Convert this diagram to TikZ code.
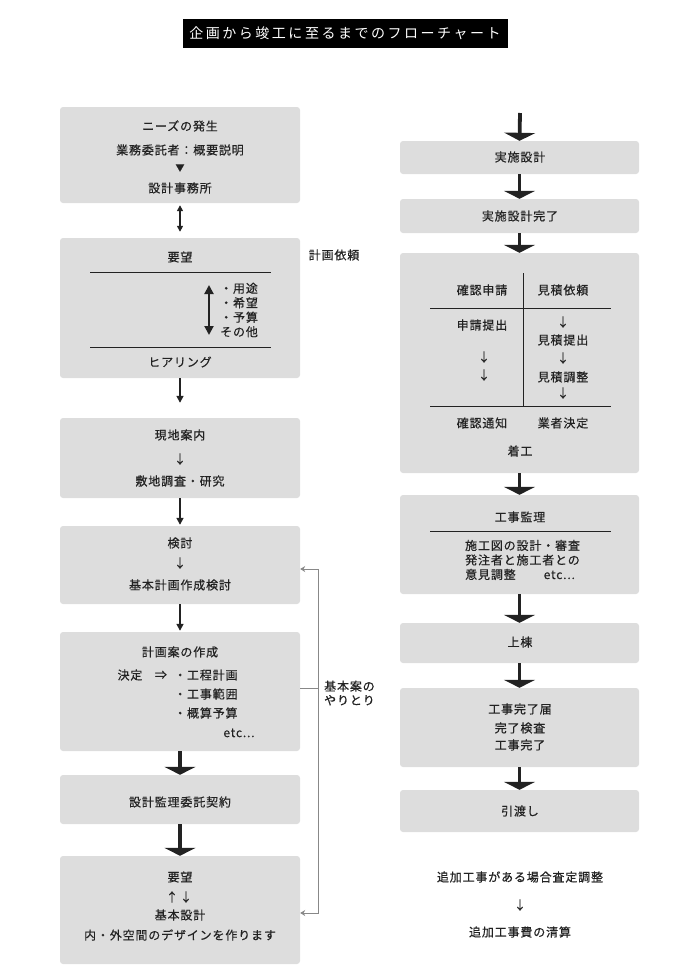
\documentclass[tikz,border=0pt]{standalone}
\usepackage{fontspec}
\usepackage{xcolor}
\usepackage{tikz}
\usetikzlibrary{arrows.meta,calc}
\newfontfamily\jp[LetterSpace=7,FakeBold=0.5]{Noto Sans CJK JP}
\newfontfamily\jptitle[LetterSpace=18]{Noto Sans CJK JP}
\definecolor{flowbox}{RGB}{221,221,221}
\definecolor{flowtext}{RGB}{34,34,34}
\definecolor{loopgray}{RGB}{136,136,136}

\begin{document}
\begin{tikzpicture}[
  x=1pt, y=-1pt,
  every node/.style={font=\jp\fontsize{12}{14.5}\selectfont, text=flowtext, inner sep=0pt},
  box/.style={fill=flowbox, rounded corners=3pt, minimum width=240pt},
  rbox/.style={box, minimum width=239pt},
  rule/.style={line width=0.9pt, color=flowtext},
  arrow/.style={-{Triangle[width=7pt,length=7pt]}, line width=1.6pt, color=flowtext},
  dblarrow/.style={{Triangle[width=6pt,length=6pt]}-{Triangle[width=6pt,length=6pt]}, line width=1.5pt, color=flowtext},
  bigarrow/.style={-{Triangle[width=31pt,length=8pt]}, line width=3.8pt, color=flowtext},
  loopline/.style={line width=0.9pt, color=loopgray},
  looparrow/.style={loopline, -{Stealth[length=5pt,width=6pt]}},
  small/.style={font=\jp\fontsize{9}{10}\selectfont}
]
  \useasboundingbox (0,0) rectangle (700,980);

  % title
  \node[fill=black, text=white, minimum width=325pt, minimum height=29pt,
        font=\jptitle\fontsize{14}{16}\selectfont] (title) at (345,33) {企画から竣工に至るまでのフローチャート};

  % left column
  \node[box, minimum height=96pt] (b1) at (180,155) {};
  \node[box, minimum height=140pt] (b2) at (180,308) {};
  \node[box, minimum height=80pt] (b3) at (180,458) {};
  \node[box, minimum height=78pt] (b4) at (180,565) {};
  \node[box, minimum height=119pt] (b5) at (180,691.5) {};
  \node[box, minimum height=49pt] (b6) at (180,799.5) {};
  \node[box, minimum height=108pt] (b7) at (180,910) {};

  \node (needs) at (180,126) {ニーズの発生};
  \node (client) at (180,150) {業務委託者：概要説明};
  \node[small] (tri) at (180,168) {▼};
  \node (office) at (180,188) {設計事務所};

  \node (wish) at (180,257) {要望};
  \draw[rule] (90,272) -- (271,272);
  \node[align=left, anchor=west] (items) at (220,310) {・用途\\・希望\\・予算\\その他};
  \coordinate (itemtop) at (209,285);
  \coordinate (itembot) at (209,335);
  \draw[{Triangle[width=9pt,length=9pt]}-{Triangle[width=9pt,length=9pt]}, line width=2pt, color=flowtext] (itemtop) -- (itembot);
  \draw[rule] (90,347) -- (271,347);
  \node (hearing) at (180,362) {ヒアリング};
  \node (request) at (334,255) {計画依頼};

  \node (guide) at (180,435) {現地案内};
  \node (g1) at (180,459) {↓};
  \node (survey) at (180,481) {敷地調査・研究};

  \node (study) at (180,543) {検討};
  \node (s1) at (180,563) {↓};
  \node (basic) at (180,585) {基本計画作成検討};

  \node (plan) at (180,652) {計画案の作成};
  \node (decide) at (130,675) {決定};
  \node (imply) at (161,675) {⇒};
  \node[anchor=west] (p1) at (174,675) {・工程計画};
  \node[anchor=west] (p2) at (174,694) {・工事範囲};
  \node[anchor=west] (p3) at (174,713) {・概算予算};
  \node (petc) at (239,733) {etc...};

  \node (contract) at (180,802) {設計監理委託契約};

  \node (wish2) at (180,877) {要望};
  \node (up) at (172,897) {↑};
  \node (down) at (186,897) {↓};
  \node (design) at (180,915) {基本設計};
  \node (space) at (180,935) {内・外空間のデザインを作ります};

  \draw[dblarrow] ([yshift=-2pt]b1.south) -- ([yshift=6pt]b2.north);
  \draw[arrow] (b2.south) -- ([yshift=15pt]b3.north);
  \draw[arrow] (b3.south) -- ([yshift=1pt]b4.north);
  \draw[arrow] (b4.south) -- ([yshift=1pt]b5.north);
  \draw[bigarrow] (b5.south) -- (b6.north);
  \draw[bigarrow] (b6.south) -- (b7.north);

  % feedback loop
  \coordinate (loop) at (318,688);
  \draw[loopline] (b5.east |- loop) -- (loop);
  \draw[looparrow] (loop) |- ([yshift=-4pt]b4.east);
  \draw[looparrow] (loop) |- ([yshift=-3pt]b7.east);
  \node[align=left, anchor=west, font=\jp\fontsize{12}{14}\selectfont] (exchange) at (324,693) {基本案の\\やりとり};

  % right column
  \node[rbox, minimum height=33pt] (r1) at (519.5,157.5) {};
  \node[rbox, minimum height=34pt] (r2) at (519.5,216) {};
  \node[rbox, minimum height=220pt] (r3) at (519.5,363) {};
  \node[rbox, minimum height=99pt] (r4) at (519.5,544.5) {};
  \node[rbox, minimum height=40pt] (r5) at (519.5,643) {};
  \node[rbox, minimum height=79pt] (r6) at (519.5,727.5) {};
  \node[rbox, minimum height=42pt] (r7) at (519.5,811) {};

  \node (exec) at (520,157) {実施設計};
  \node (execdone) at (520,216) {実施設計完了};

  \draw[rule] (523,273) -- (523,406);
  \draw[rule] (430,308) -- (611,308);
  \draw[rule] (430,406) -- (611,406);
  \node (apply) at (482,290) {確認申請};
  \node (quote) at (563,290) {見積依頼};
  \node (submit) at (482,325) {申請提出};
  \node (a1) at (484,357) {↓};
  \node (a2) at (484,375) {↓};
  \node (q1) at (563,322) {↓};
  \node (qsub) at (563,340) {見積提出};
  \node (q2) at (563,358) {↓};
  \node (qadj) at (563,377) {見積調整};
  \node (q3) at (563,393) {↓};
  \node (notice) at (482,423) {確認通知};
  \node (vendor) at (563,423) {業者決定};
  \node (start) at (520,451) {着工};

  \node (super) at (520,517) {工事監理};
  \draw[rule] (430,531) -- (611,531);
  \node[align=left, anchor=west] (tasks) at (465,560) {施工図の設計・審査\\発注者と施工者との\\意見調整\hspace{28pt}etc...};

  \node (frame) at (520,642) {上棟};
  \node (fin1) at (520,709) {工事完了届};
  \node (fin2) at (520,728) {完了検査};
  \node (fin3) at (520,745) {工事完了};
  \node (handover) at (520,811) {引渡し};

  \node (extra) at (520,877) {追加工事がある場合査定調整};
  \node (e1) at (520,905) {↓};
  \node (settle) at (520,932) {追加工事費の清算};

  \coordinate (rtop) at (520,113);
  \draw[bigarrow] (rtop) -- (r1.north);
  \draw[bigarrow] (r1.south) -- (r2.north);
  \draw[bigarrow] (r2.south) -- (r3.north);
  \draw[bigarrow] (r3.south) -- (r4.north);
  \draw[bigarrow] (r4.south) -- (r5.north);
  \draw[bigarrow] (r5.south) -- (r6.north);
  \draw[bigarrow] (r6.south) -- (r7.north);
\end{tikzpicture}
\end{document}
